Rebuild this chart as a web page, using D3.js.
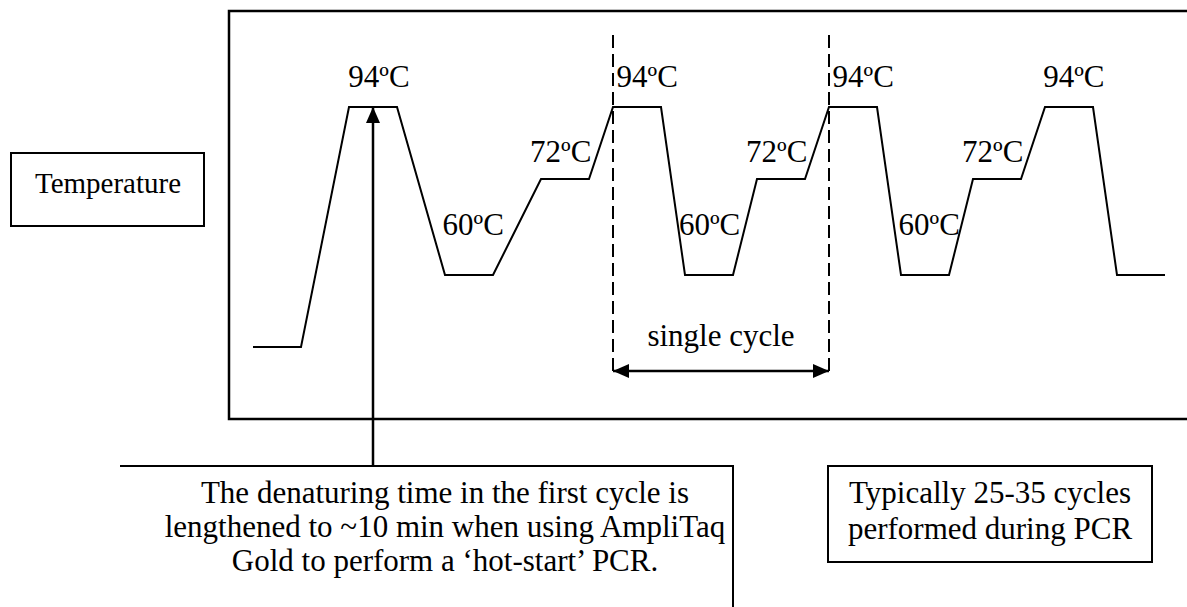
<!DOCTYPE html>
<html>
<head>
<meta charset="utf-8">
<script src="https://cdn.jsdelivr.net/npm/d3@7"></script>
<style>
  html, body { margin: 0; padding: 0; background: #fff; }
  svg { display: block; }
  text { font-family: "Liberation Serif", "Times New Roman", serif; fill: #000; }
</style>
</head>
<body>
<svg id="chart" width="1187" height="607"></svg>
<script>
// ---- data ----
const times = [0, 2, 4, 6, 8, 10, 12, 14, 15, 17, 18, 20, 21, 23, 24, 26, 27, 29, 30, 32, 33, 35, 36, 38];
const temps = [25, 25, 94, 94, 60, 60, 72, 72, 94, 94, 60, 60, 72, 72, 94, 94, 60, 60, 72, 72, 94, 94, 60, 60];
const tempLevels = [25, 60, 72, 94];
const labelTexts = ["94ºC", "60ºC", "72ºC", "94ºC", "60ºC", "72ºC", "94ºC", "60ºC", "72ºC", "94ºC"];
const labelTemps = [94, 60, 72, 94, 60, 72, 94, 60, 72, 94];
const labelTimes = [5.25, 7.9, 14.1, 15.15, 17.75, 23.1, 24.15, 26.9, 32.1, 34.2];
const labelAnchors = ["middle", "start", "end", "start", "start", "end", "start", "start", "end", "middle"];
const cycleBounds = [15, 24];
const axisLabel = "Temperature";
const cycleLabel = "single cycle";
const noteLines = ["The denaturing time in the first cycle is",
                   "lengthened to ~10 min when using AmpliTaq",
                   "Gold to perform a ‘hot-start’ PCR."];
const cycleNoteLines = ["Typically 25-35 cycles", "performed during PCR"];
const noteTime = 5;

// ---- scales ----
const svg = d3.select("#chart");
const x = d3.scaleLinear().domain([0, 38]).range([253, 1165]);
const y = d3.scaleLinear().domain(tempLevels).range([347, 275, 179, 107]);

const FS = 31;

// frame
const frame = { left: 229, top: 11, bottom: 419, right: 1187 };
svg.append("path")
  .attr("d", `M${frame.right},${frame.top}H${frame.left}V${frame.bottom}H${frame.right}`)
  .attr("fill", "none").attr("stroke", "#000").attr("stroke-width", 2.5);

// temperature box
svg.append("rect").attr("x", 11).attr("y", 153).attr("width", 193).attr("height", 73)
  .attr("fill", "none").attr("stroke", "#000").attr("stroke-width", 2);
svg.append("text").attr("x", 108).attr("y", 193).attr("text-anchor", "middle")
  .attr("font-size", 29).text(axisLabel);

// profile
const pts = times.map((t, i) => [t, temps[i]]);
svg.append("path")
  .attr("d", d3.line().x(d => x(d[0])).y(d => y(d[1]))(pts))
  .attr("fill", "none").attr("stroke", "#000").attr("stroke-width", 2)
  .attr("stroke-linejoin", "miter");

// temperature labels
const yOff = { 94: -20, 72: -17, 60: -40 };
labelTexts.forEach((s, i) => {
  svg.append("text")
    .attr("x", x(labelTimes[i]))
    .attr("y", y(labelTemps[i]) + yOff[labelTemps[i]])
    .attr("text-anchor", labelAnchors[i])
    .attr("font-size", FS)
    .text(s);
});

// dashed cycle boundaries
cycleBounds.forEach(t => {
  svg.append("line").attr("x1", x(t)).attr("x2", x(t)).attr("y1", 35).attr("y2", 374)
    .attr("stroke", "#000").attr("stroke-width", 2).attr("stroke-dasharray", "13,6");
});

// markers
const defs = svg.append("defs");
defs.append("marker").attr("id", "ah").attr("viewBox", "0 0 16 14")
  .attr("refX", 16).attr("refY", 7).attr("markerWidth", 16).attr("markerHeight", 14)
  .attr("markerUnits", "userSpaceOnUse").attr("orient", "auto-start-reverse")
  .append("path").attr("d", "M0,0L16,7L0,14Z").attr("fill", "#000");

// double arrow
const ay = 371;
svg.append("line").attr("x1", x(cycleBounds[0])).attr("x2", x(cycleBounds[1]))
  .attr("y1", ay).attr("y2", ay).attr("stroke", "#000").attr("stroke-width", 2.5)
  .attr("marker-start", "url(#ah)").attr("marker-end", "url(#ah)");
svg.append("text").attr("x", (x(cycleBounds[0]) + x(cycleBounds[1])) / 2).attr("y", 346)
  .attr("text-anchor", "middle").attr("font-size", FS).text(cycleLabel);

// vertical arrow from note to first denaturation
svg.append("line").attr("x1", x(noteTime)).attr("x2", x(noteTime))
  .attr("y1", 466).attr("y2", y(94)).attr("stroke", "#000").attr("stroke-width", 2.5)
  .attr("marker-end", "url(#ah)");

// note box (bottom-left)
svg.append("path").attr("d", "M120,466H733V607")
  .attr("fill", "none").attr("stroke", "#000").attr("stroke-width", 2);
noteLines.forEach((s, i) => {
  svg.append("text").attr("x", 445).attr("y", 503 + i * 34)
    .attr("text-anchor", "middle").attr("font-size", FS).text(s);
});

// cycles box (bottom-right)
svg.append("rect").attr("x", 828).attr("y", 466).attr("width", 324).attr("height", 96)
  .attr("fill", "none").attr("stroke", "#000").attr("stroke-width", 2);
cycleNoteLines.forEach((s, i) => {
  svg.append("text").attr("x", 990).attr("y", 503 + i * 36)
    .attr("text-anchor", "middle").attr("font-size", FS).text(s);
});
</script>
</body>
</html>
